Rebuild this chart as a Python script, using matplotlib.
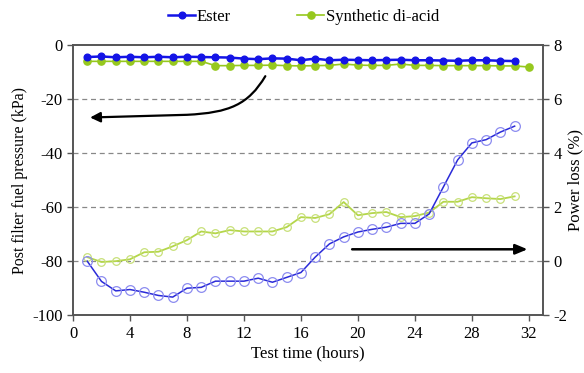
import matplotlib
matplotlib.use("Agg")
import matplotlib.pyplot as plt
from matplotlib.path import Path
from matplotlib.patches import FancyArrowPatch

plt.rcParams["font.family"] = ["Liberation Serif", "DejaVu Serif"]
plt.rcParams["font.size"] = 12
plt.rcParams["axes.unicode_minus"] = False

# --- data ---
hours_ester = list(range(1, 32))
hours_acid = list(range(1, 33))

pressure_ester = [-4.4, -4.2, -4.5, -4.3, -4.5, -4.3, -4.5, -4.3, -4.4, -4.5,
                  -4.6, -5.0, -5.2, -4.9, -5.0, -5.6, -5.0, -5.6, -5.4, -5.5,
                  -5.6, -5.5, -5.4, -5.6, -5.6, -5.7, -5.8, -5.6, -5.6, -5.8, -5.9]
pressure_acid = [-6.0, -6.0, -6.0, -6.0, -6.0, -6.0, -6.0, -6.0, -6.0,
                 -7.6, -7.6, -7.5, -7.5, -7.4, -7.6, -7.7, -7.6, -7.5, -7.0,
                 -7.4, -7.5, -7.5, -7.0, -7.5, -7.5, -7.6, -7.6, -7.6, -7.6,
                 -7.7, -7.7, -8.1]

power_ester = [0.0, -0.75, -1.1, -1.05, -1.15, -1.27, -1.33, -1.0, -0.97, -0.74,
               -0.74, -0.74, -0.63, -0.78, -0.6, -0.42, 0.15, 0.64, 0.9, 1.08,
               1.18, 1.26, 1.4, 1.4, 1.75, 2.75, 3.75, 4.38, 4.5, 4.78, 5.0]
power_acid = [0.15, -0.03, 0.0, 0.07, 0.33, 0.35, 0.55, 0.78, 1.1, 1.03,
              1.15, 1.1, 1.1, 1.1, 1.26, 1.63, 1.6, 1.74, 2.19, 1.7,
              1.78, 1.82, 1.63, 1.67, 1.8, 2.2, 2.2, 2.37, 2.33, 2.3, 2.4]

BLUE = "#1414e6"
GREEN = "#96c81e"

fig = plt.figure(figsize=(5.84, 3.73), dpi=100)
ax = fig.add_axes([0.125, 0.155, 0.805, 0.724])
ax2 = ax.twinx()

# pressure (left axis)
l1, = ax.plot(hours_ester, pressure_ester, color=BLUE, lw=1.8, marker="o",
              ms=4.8, mfc=BLUE, mec=BLUE, zorder=4, label="Ester")
l2, = ax.plot(hours_acid, pressure_acid, color=GREEN, lw=1.2, marker="o",
              ms=5.2, mfc=GREEN, mec=GREEN, zorder=3, label="Synthetic di-acid")

# power loss (right axis)
ax2.plot(hours_ester, power_ester, color="#2a2ad8", lw=1.1, marker="o", ms=7,
         mfc="none", mec="#8c8cf0", mew=0.9, zorder=4)
ax2.plot(hours_ester, power_acid, color="#b4d64a", lw=1.3, marker="o", ms=5.5,
         mfc="none", mec="#c8e07a", mew=0.9, zorder=3)

ax.set_xlim(0, 33)
ax.set_ylim(-100, 0)
ax2.set_ylim(-2, 8)
ax.set_xticks(range(0, 33, 4))
ax.set_yticks(range(-100, 1, 20))
ax2.set_yticks(range(-2, 9, 2))

for y in (-20, -40, -60, -80):
    ax.axhline(y, color="#888888", lw=0.9, ls=(0, (4, 3)), zorder=1)

for a in (ax, ax2):
    for s in a.spines.values():
        s.set_color("#555555")
        s.set_linewidth(1.2)
    a.tick_params(direction="out", length=4, color="#555555", width=1, labelsize=12)

ax.set_xlabel("Test time (hours)", fontsize=12, labelpad=3)
ax.set_ylabel("Post filter fuel pressure (kPa)", fontsize=11.5, labelpad=3)
ax2.set_ylabel("Power loss (%)", fontsize=12, labelpad=0)

# curved arrow pointing to the left axis
verts = [(13.5, -11.5), (12.3, -22.0), (11.0, -25.0), (8.0, -25.8), (1.2, -26.8)]
codes = [Path.MOVETO, Path.CURVE4, Path.CURVE4, Path.CURVE4, Path.LINETO]
arr = FancyArrowPatch(path=Path(verts, codes), arrowstyle="-|>,head_length=6,head_width=3",
                      color="black", lw=1.6, zorder=6)
ax.add_patch(arr)

# straight arrow pointing to the right axis
ax2.annotate("", xy=(32.1, 0.44), xytext=(19.4, 0.44),
             arrowprops=dict(arrowstyle="-|>,head_length=0.6,head_width=0.25",
                             color="black", lw=1.8), zorder=6)

fig.legend(handles=[l1, l2], loc="center", bbox_to_anchor=(0.52, 0.955), ncol=2,
           frameon=False, fontsize=12, handlelength=1.6, handletextpad=0.1,
           columnspacing=4.0, markerscale=1.0)

fig.savefig("out.png", dpi=100)
